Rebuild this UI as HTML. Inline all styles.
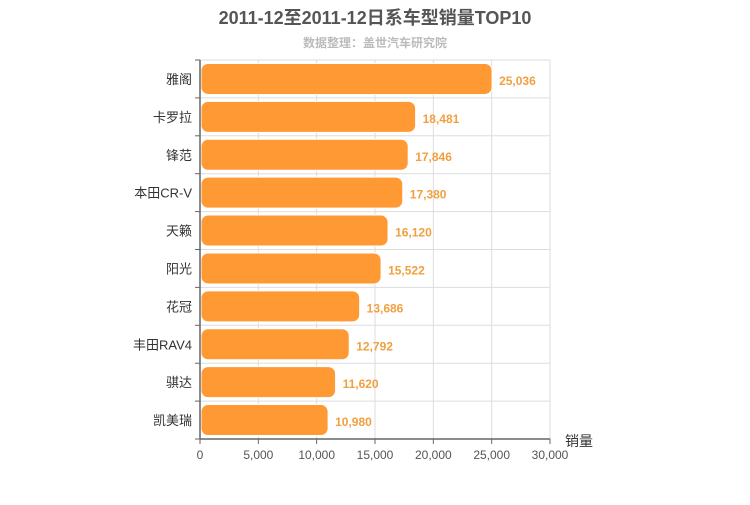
<!DOCTYPE html>
<html><head><meta charset="utf-8"><style>
body{margin:0;background:#fff;width:750px;height:500px;overflow:hidden}
text{font-family:"Liberation Sans","Noto Sans CJK SC",sans-serif}
</style></head><body>
<svg id="c" width="750" height="500" xmlns="http://www.w3.org/2000/svg">
<text x="375" y="24" text-anchor="middle" font-size="18" font-weight="bold" fill="#555">2011-12至2011-12日系车型销量TOP10</text>
<text x="375" y="47" text-anchor="middle" font-size="12" font-weight="bold" fill="#bbb">数据整理：盖世汽车研究院</text>
<text x="565" y="446" font-size="14" fill="#333">销量</text>
</svg>
<script>
const categories=["雅阁","卡罗拉","锋范","本田CR-V","天籁","阳光","花冠","丰田RAV4","骐达","凯美瑞"];
const values=[25036,18481,17846,17380,16120,15522,13686,12792,11620,10980];
const ticks=[0,5000,10000,15000,20000,25000,30000];
const svg=document.getElementById('c');const NS="http://www.w3.org/2000/svg";
const L=200,R=550,T=60,B=439,max=30000;
const xs=v=>L+v/max*(R-L);const band=(B-T)/categories.length;
function mk(t,a,p){const e=document.createElementNS(NS,t);for(const k in a)e.setAttribute(k,a[k]);(p||svg).appendChild(e);return e;}
ticks.forEach(t=>{const x=xs(t);
 if(t>0){const g=mk('line',{x1:x,x2:x,y1:T,y2:B,stroke:'#ddd'});}
 mk('line',{x1:x,x2:x,y1:B,y2:B+5,stroke:'#666'});
 const tx=mk('text',{x:x,y:B+20,'text-anchor':'middle','font-size':12,fill:'#555'});tx.textContent=t.toLocaleString('en-US');
 });
for(let i=0;i<=categories.length;i++){const y=T+i*band;
 if(i>0&&i<categories.length){const g=mk('line',{x1:L,x2:R,y1:y,y2:y,stroke:'#ddd'});}
 mk('line',{x1:L-5,x2:L,y1:y,y2:y,stroke:'#666'});}
mk('line',{x1:R,x2:R,y1:T,y2:B,stroke:'#ddd'});
mk('line',{x1:L,x2:R,y1:T,y2:T,stroke:'#ddd'});
categories.forEach((c,i)=>{const yc=T+(i+0.5)*band;
 const r=mk('rect',{x:L+1,y:yc-15.5,width:xs(values[i])-L-1,height:31,rx:7,fill:'#ff9933',stroke:'#fff','stroke-width':1});
 
 const lb=mk('text',{x:L-8,y:yc+5,'text-anchor':'end','font-size':13,fill:'#333'});lb.textContent=c;
 
 const v=mk('text',{x:xs(values[i])+7,y:yc+6,'font-size':12,'font-weight':'bold',fill:'#f0a040'});v.textContent=values[i].toLocaleString('en-US');
 });
const ax=mk('line',{x1:L,x2:L,y1:T,y2:B,stroke:'#666','stroke-width':1.5});
const bx=mk('line',{x1:L,x2:R,y1:B,y2:B,stroke:'#666','stroke-width':1.5});
</script>
</body></html>
